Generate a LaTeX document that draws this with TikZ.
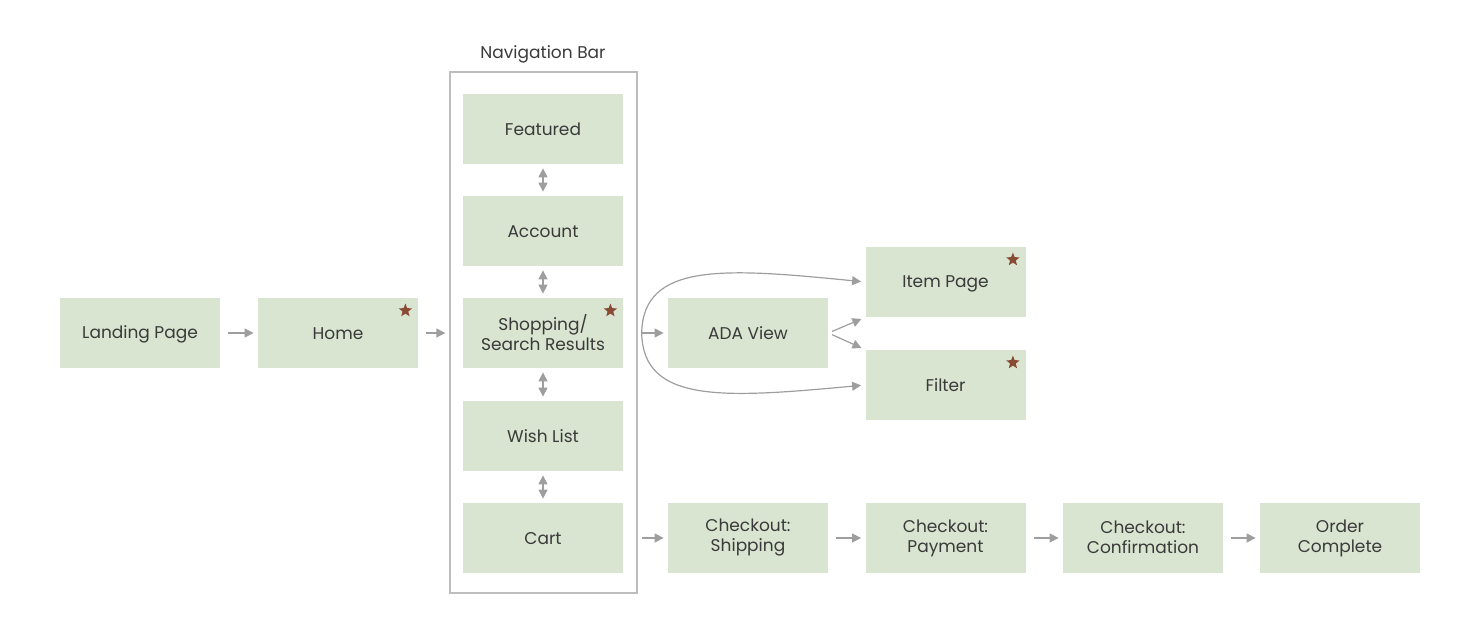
\documentclass[tikz,border=0pt]{standalone}
\usepackage{fontspec}
\setmainfont{Poppins}
\usepackage{xcolor}
\usetikzlibrary{arrows.meta,shapes.geometric}
\definecolor{boxgreen}{HTML}{D9E5D0}
\definecolor{startone}{HTML}{8A4B35}
\definecolor{linegray}{HTML}{9E9E9E}
\definecolor{framegray}{HTML}{BDBDBD}
\definecolor{textgray}{HTML}{3A3A3A}
\newcommand\pagestrut{\rule[-1pt]{0pt}{9pt}}

\begin{document}
\begin{tikzpicture}[x=0.5pt,y=-0.5pt,
  page/.style={fill=boxgreen, minimum width=80pt, minimum height=35pt, inner sep=0pt,
    align=center, text=textgray, font=\fontsize{8.5}{10}\selectfont,
    execute at begin node={\pagestrut}, execute at end node={\pagestrut}},
  fav/.style={star, star points=5, star point ratio=2.3, fill=startone, inner sep=0pt, minimum size=7pt},
  arr/.style={draw=linegray, line width=0.6pt, -{Triangle[width=4.5pt,length=4.5pt]}, shorten <=4pt, shorten >=2pt},
  both/.style={draw=linegray, line width=0.6pt, {Triangle[width=4.5pt,length=4.5pt]}-{Triangle[width=4.5pt,length=4.5pt]}, shorten <=2pt, shorten >=2pt}]
\useasboundingbox (0,0) rectangle (1480,635);

\node[draw=framegray, line width=0.7pt, minimum width=93.5pt, minimum height=260.5pt](navbar) at (543.5,332.5){};
\node[text=textgray, font=\fontsize{8.5}{10}\selectfont](navlabel) at (543,54){Navigation Bar};

\node[page](land) at (140,333){Landing Page};
\node[page](home) at (338,333){Home};
\node[page](feat) at (543,129){Featured};
\node[page](acct) at (543,231){Account};
\node[page](shop) at (543,333){Shopping/\\Search Results};
\node[page](wish) at (543,436){Wish List};
\node[page](cart) at (543,538){Cart};
\node[page](ada) at (748,333){ADA View};
\node[page](item) at (945.5,282){Item Page};
\node[page](filt) at (945.5,385){Filter};
\node[page](ship) at (748,538){Checkout:\\Shipping};
\node[page](pay) at (945.5,538){Checkout:\\Payment};
\node[page](conf) at (1143,538){Checkout:\\Confirmation};
\node[page](done) at (1340,538){Order\\Complete};

% stars on key pages
\node[fav](homestar) at ([shift={(-6.5pt,-6.5pt)}]home.north east){};
\node[fav](shopstar) at ([shift={(-6.5pt,-6.5pt)}]shop.north east){};
\node[fav](itemstar) at ([shift={(-6.5pt,-6.5pt)}]item.north east){};
\node[fav](filtstar) at ([shift={(-6.5pt,-6.5pt)}]filt.north east){};

\draw[arr] (land) -- (home);
\draw[arr] (home) -- (navbar.west |- home);
\draw[both] (feat) -- (acct);
\draw[both] (acct) -- (shop);
\draw[both] (shop) -- (wish);
\draw[both] (wish) -- (cart);
\draw[arr, shorten <=2pt] (navbar.east |- ada) -- (ada);
\draw[arr, shorten <=0pt] ([xshift=2pt]navbar.east |- ada) .. controls (643,262) and (725,268) .. (item.west);
\draw[arr, shorten <=0pt] ([xshift=2pt]navbar.east |- ada) .. controls (643,404) and (725,398) .. (filt.west);
\draw[arr, shorten <=2pt] (ada.east) -- (item.south west);
\draw[arr, shorten <=2pt] (ada.east) -- (filt.north west);
\draw[arr, shorten <=2pt] (navbar.east |- ship) -- (ship);
\draw[arr] (ship) -- (pay);
\draw[arr] (pay) -- (conf);
\draw[arr] (conf) -- (done);
\end{tikzpicture}
\end{document}
